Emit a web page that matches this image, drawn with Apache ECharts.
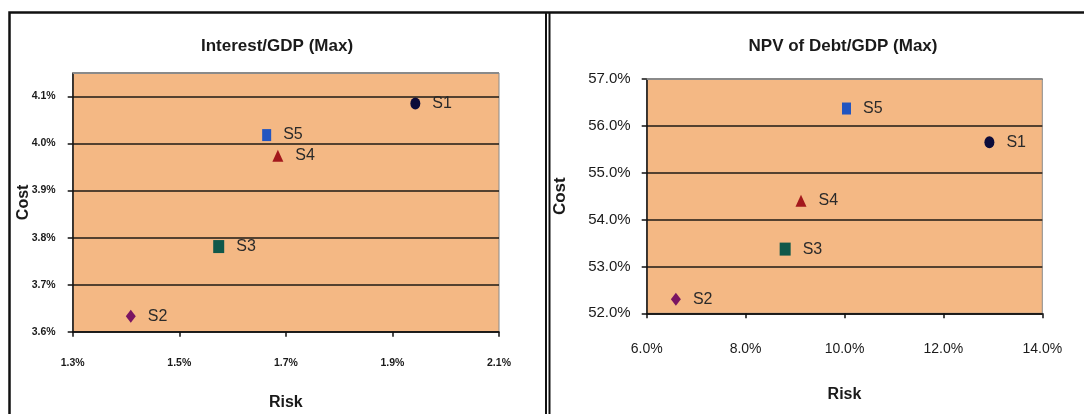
<!DOCTYPE html>
<html>
<head>
<meta charset="utf-8">
<script src="https://cdn.jsdelivr.net/npm/echarts@6/dist/echarts.min.js"></script>
<style>
html,body{margin:0;padding:0;background:#fff;}
#c{width:1084px;height:414px;}
</style>
</head>
<body>
<div id="c"></div>
<script>
// ---- data ----
const scenarios = ['S1', 'S2', 'S3', 'S4', 'S5'];
const interestRisk = [1.943, 1.409, 1.574, 1.685, 1.664];
const interestCost = [4.085, 3.633, 3.781, 3.974, 4.018];
const npvRisk = [12.93, 6.59, 8.80, 9.12, 10.04];
const npvCost = [55.65, 52.30, 53.37, 54.40, 56.37];
const interestRiskTicks = [1.3, 1.5, 1.7, 1.9, 2.1];
const interestCostTicks = [3.6, 3.7, 3.8, 3.9, 4.0, 4.1];
const npvRiskTicks = [6, 8, 10, 12, 14];
const npvCostTicks = [52, 53, 54, 55, 56, 57];
const titles = ['Interest/GDP (Max)', 'NPV of Debt/GDP (Max)'];

// ---- styles ----
const markers = {
  S1: {symbol: 'circle', size: [10, 12], color: '#0c0c3a'},
  S2: {symbol: 'diamond', size: [10, 13], color: '#7a1462'},
  S3: {symbol: 'rect', size: [11, 13], color: '#10584a'},
  S4: {symbol: 'triangle', size: [11, 12], color: '#a3181c'},
  S5: {symbol: 'rect', size: [9, 12], color: '#2255c0'}
};
const SANS = '"Liberation Sans", Arial, sans-serif';
const fmt1 = v => v.toFixed(1) + '%';

const chart = echarts.init(document.getElementById('c'), null, {renderer: 'canvas'});

const series = [];
[[interestRisk, interestCost], [npvRisk, npvCost]].forEach((pair, gi) => {
  scenarios.forEach((s, i) => {
    const m = markers[s];
    series.push({
      name: s,
      type: 'scatter',
      xAxisIndex: gi,
      yAxisIndex: gi,
      symbol: m.symbol,
      symbolSize: m.size,
      itemStyle: {color: m.color, opacity: 1},
      label: {
        show: true, position: 'right', distance: 12,
        formatter: s, fontFamily: SANS, fontSize: 16, color: '#2a2a2a'
      },
      data: [[pair[0][i], pair[1][i]]],
      z: 5
    });
  });
});

const axisLineStyle = {show: true, lineStyle: {color: '#111', width: 1.5}};
const tickStyle = {show: true, inside: false, length: 5, lineStyle: {color: '#111', width: 1.5}};

const option = {
  animation: false,
  backgroundColor: '#fff',
  title: [
    {text: titles[0], left: 272, top: 33, textAlign: 'center',
     textStyle: {fontFamily: SANS, fontWeight: 'bold', fontSize: 17, color: '#1a1a1a'}},
    {text: titles[1], left: 838, top: 33, textAlign: 'center',
     textStyle: {fontFamily: SANS, fontWeight: 'bold', fontSize: 17, color: '#1a1a1a'}}
  ],
  grid: [
    {left: 72.7, top: 73, width: 426.3, height: 258.7, show: true, outerBoundsMode: 'none',
     backgroundColor: '#f4b884', borderColor: '#8a8a8a', borderWidth: 1},
    {left: 646.7, top: 79, width: 395.6, height: 234.3, show: true, outerBoundsMode: 'none',
     backgroundColor: '#f4b884', borderColor: '#8a8a8a', borderWidth: 1}
  ],
  xAxis: [
    {gridIndex: 0, type: 'value', min: interestRiskTicks[0], max: interestRiskTicks[interestRiskTicks.length - 1],
     interval: 0.1,
     name: 'Risk', nameLocation: 'middle', nameGap: 63, nameMoveOverlap: false,
     nameTextStyle: {fontFamily: SANS, fontWeight: 'bold', fontSize: 16, color: '#1a1a1a'},
     axisLine: axisLineStyle,
     axisTick: Object.assign({}, tickStyle, {customValues: interestRiskTicks}),
     axisLabel: {customValues: interestRiskTicks, formatter: fmt1, margin: 26,
       fontFamily: SANS, fontWeight: 'bold', fontSize: 10.5, color: '#1a1a1a'},
     splitLine: {show: false}},
    {gridIndex: 1, type: 'value', min: npvRiskTicks[0], max: npvRiskTicks[npvRiskTicks.length - 1], interval: 2,
     name: 'Risk', nameLocation: 'middle', nameGap: 73, nameMoveOverlap: false,
     nameTextStyle: {fontFamily: SANS, fontWeight: 'bold', fontSize: 16, color: '#1a1a1a'},
     axisLine: axisLineStyle, axisTick: tickStyle,
     axisLabel: {formatter: fmt1, margin: 29, fontFamily: SANS, fontSize: 14, color: '#1a1a1a'},
     splitLine: {show: false}}
  ],
  yAxis: [
    {gridIndex: 0, type: 'value', min: interestCostTicks[0], max: 4.15, interval: 0.1,
     name: 'Cost', nameLocation: 'middle', nameGap: 41, nameMoveOverlap: false,
     nameTextStyle: {fontFamily: SANS, fontWeight: 'bold', fontSize: 16, color: '#1a1a1a'},
     axisLine: axisLineStyle,
     axisTick: Object.assign({}, tickStyle, {customValues: interestCostTicks}),
     axisLabel: {customValues: interestCostTicks, formatter: fmt1, margin: 17,
       fontFamily: SANS, fontWeight: 'bold', fontSize: 10.5, color: '#1a1a1a'},
     splitLine: {show: true, lineStyle: {color: '#1e1a14', width: 1.6}}},
    {gridIndex: 1, type: 'value', min: npvCostTicks[0], max: npvCostTicks[npvCostTicks.length - 1], interval: 1,
     name: 'Cost', nameLocation: 'middle', nameGap: 78, nameMoveOverlap: false,
     nameTextStyle: {fontFamily: SANS, fontWeight: 'bold', fontSize: 17, color: '#1a1a1a'},
     axisLine: axisLineStyle, axisTick: tickStyle,
     axisLabel: {formatter: fmt1, margin: 16, fontFamily: SANS, fontSize: 15, color: '#1a1a1a'},
     splitLine: {show: true, lineStyle: {color: '#1e1a14', width: 1.6}}}
  ],
  graphic: [
    // outer frames
    {type: 'polyline', z: 100, silent: true,
     shape: {points: [[9.5, 414], [9.5, 12.5], [1084, 12.5]]},
     style: {stroke: '#111', lineWidth: 2.5, fill: null}},
    {type: 'line', z: 100, silent: true, shape: {x1: 546, y1: 12.5, x2: 546, y2: 414},
     style: {stroke: '#111', lineWidth: 2}},
    {type: 'line', z: 100, silent: true, shape: {x1: 549.5, y1: 12.5, x2: 549.5, y2: 414},
     style: {stroke: '#111', lineWidth: 2}},
    // grey top borders of plot areas (over the top gridline)
    {type: 'line', z: 100, silent: true, shape: {x1: 72.7, y1: 73, x2: 499, y2: 73},
     style: {stroke: '#8a8a8a', lineWidth: 2}},
    {type: 'line', z: 100, silent: true, shape: {x1: 646.7, y1: 79, x2: 1042.3, y2: 79},
     style: {stroke: '#8a8a8a', lineWidth: 2}}
  ],
  series: series
};
chart.setOption(option);
</script>
</body>
</html>
